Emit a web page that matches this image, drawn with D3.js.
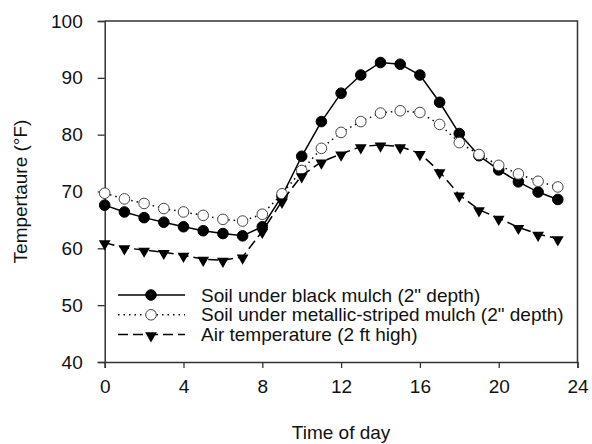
<!DOCTYPE html>
<html>
<head>
<meta charset="utf-8">
<script src="https://cdn.jsdelivr.net/npm/d3@7"></script>
<style>
  body { margin: 0; background: #fff; }
  svg text { font-family: Arial, "Liberation Sans", sans-serif; fill: #111; }
</style>
</head>
<body>
<div id="chart"></div>
<script>
// hours of the day
var hours = [0, 1, 2, 3, 4, 5, 6, 7, 8, 9, 10, 11, 12, 13, 14, 15, 16, 17, 18, 19, 20, 21, 22, 23];

// soil temperature under black mulch (2" depth)
var blackMulch = [67.6, 66.4, 65.4, 64.6, 63.8, 63.1, 62.6, 62.2, 63.8, 69.2, 76.2, 82.3,
                  87.3, 90.5, 92.7, 92.4, 90.5, 85.7, 80.2, 76.3, 73.8, 71.7, 69.9, 68.6];

// soil temperature under metallic-striped mulch (2" depth)
var metallicMulch = [69.7, 68.7, 67.9, 67.0, 66.4, 65.8, 65.1, 64.8, 66.0, 69.6, 73.7, 77.6,
                     80.4, 82.3, 83.8, 84.2, 83.9, 81.8, 78.6, 76.5, 74.6, 73.1, 71.8, 70.8];

// air temperature (2 ft high)
var airTemp = [61.0, 60.1, 59.7, 59.3, 58.8, 58.1, 57.9, 58.5, 63.0, 68.3, 72.8, 75.2,
               76.6, 77.9, 78.2, 77.9, 76.7, 73.5, 69.4, 66.8, 65.3, 63.7, 62.5, 61.7];

var seriesNames = ['Soil under black mulch (2" depth)',
                   'Soil under metallic-striped mulch (2" depth)',
                   'Air temperature (2 ft high)'];

var xTicks = [0, 4, 8, 12, 16, 20, 24];
var yTicks = [40, 50, 60, 70, 80, 90, 100];

var width = 592, height = 444;
var margin = { top: 21, right: 14.5, bottom: 82, left: 104.7 };

var svg = d3.select('#chart')
    .append('svg')
    .attr('width', width)
    .attr('height', height);

var x = d3.scaleLinear().domain([0, 24]).range([margin.left, width - margin.right]);
var y = d3.scaleLinear().domain([40, 100]).range([height - margin.bottom, margin.top]);

var axisColor = '#333';

// frame (top and right, no ticks)
svg.append('path')
    .attr('d', 'M' + x(0) + ',' + y(100) + 'H' + x(24) + 'V' + y(40))
    .attr('fill', 'none')
    .attr('stroke', axisColor)
    .attr('stroke-width', 1.5);

var xAxis = svg.append('g')
    .attr('transform', 'translate(0,' + y(40) + ')')
    .call(d3.axisBottom(x).tickValues(xTicks).tickSizeOuter(0).tickSize(6).tickPadding(12));

var yAxis = svg.append('g')
    .attr('transform', 'translate(' + x(0) + ',0)')
    .call(d3.axisLeft(y).tickValues(yTicks).tickSizeOuter(0).tickSize(7).tickPadding(15));

[xAxis, yAxis].forEach(function (a) {
    a.select('.domain').attr('stroke', axisColor).attr('stroke-width', 1.5);
    a.selectAll('.tick line').attr('stroke', axisColor).attr('stroke-width', 1.3);
    a.selectAll('.tick text').style('font-size', '19px').attr('fill', '#111');
});

// axis titles
svg.append('text')
    .attr('x', (x(0) + x(24)) / 2)
    .attr('y', 439)
    .attr('text-anchor', 'middle')
    .style('font-size', '19px')
    .text('Time of day');

svg.append('text')
    .attr('transform', 'translate(27,' + ((y(40) + y(100)) / 2) + ') rotate(-90)')
    .attr('text-anchor', 'middle')
    .style('font-size', '19px')
    .text('Tempertaure (°F)');

var triangleDown = d3.symbol().type(d3.symbolTriangle).size(60);

var series = [
    { name: seriesNames[0], values: blackMulch, dash: null, marker: 'circle', fill: '#000' },
    { name: seriesNames[1], values: metallicMulch, dash: '1.5,4', marker: 'circle', fill: '#fff' },
    { name: seriesNames[2], values: airTemp, dash: '10,5', marker: 'triangle', fill: '#000' }
];

var line = d3.line()
    .x(function (d) { return x(d[0]); })
    .y(function (d) { return y(d[1]); });

function drawMarker(sel, s) {
    if (s.marker === 'circle') {
        sel.append('circle')
            .attr('r', 5.3)
            .attr('fill', s.fill)
            .attr('stroke', s.fill === '#fff' ? '#444' : '#000')
            .attr('stroke-width', 1);
    } else {
        sel.append('path')
            .attr('d', triangleDown())
            .attr('transform', 'rotate(180) translate(0,-1)')
            .attr('fill', '#000');
    }
}

series.forEach(function (s) {
    var pts = hours.map(function (h, i) { return [h, s.values[i]]; });
    svg.append('path')
        .datum(pts)
        .attr('d', line)
        .attr('fill', 'none')
        .attr('stroke', '#000')
        .attr('stroke-width', 1.5)
        .attr('stroke-dasharray', s.dash);

    svg.append('g').selectAll('g')
        .data(pts)
        .enter().append('g')
        .attr('transform', function (d) { return 'translate(' + x(d[0]) + ',' + y(d[1]) + ')'; })
        .each(function () { drawMarker(d3.select(this), s); });
});

// legend
var legend = svg.append('g').attr('transform', 'translate(118,295)');
series.forEach(function (s, i) {
    var row = legend.append('g').attr('transform', 'translate(0,' + (i * 19.8) + ')');
    row.append('line')
        .attr('x1', 0).attr('x2', 67)
        .attr('stroke', '#000')
        .attr('stroke-width', 1.5)
        .attr('stroke-dasharray', s.dash);
    var m = row.append('g').attr('transform', 'translate(33,0)');
    drawMarker(m, s);
    row.append('text')
        .attr('x', 83)
        .attr('y', 6.5)
        .style('font-size', '19px')
        .text(s.name);
});
</script>
</body>
</html>
